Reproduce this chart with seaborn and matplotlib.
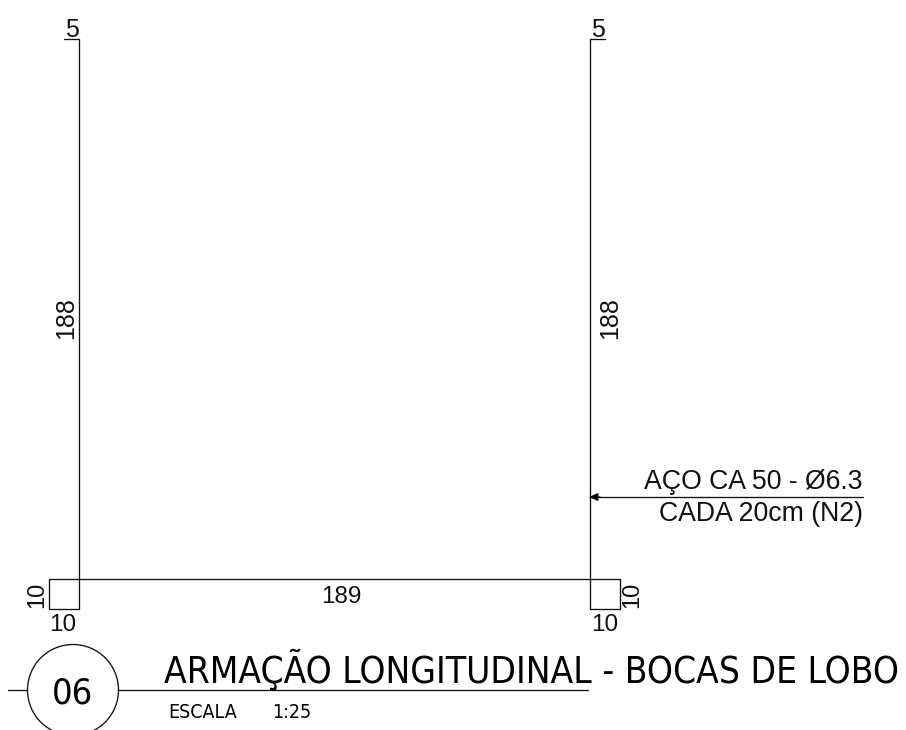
import matplotlib
matplotlib.use("Agg")
import matplotlib.pyplot as plt
import pandas as pd
import seaborn as sns
from matplotlib.patches import Circle

sns.set_theme(style="white")

seg_names = ["left_bar", "right_bar", "base_top", "left_square", "right_square",
             "leader", "title_rule_a", "title_rule_b"]
seg_x = [[64, 79, 79], [590, 605], [49, 620], [49, 49, 79], [620, 620, 590],
         [590, 863], [8, 27], [118, 588]]
seg_y = [[39, 39, 609], [39, 39], [579, 579], [579, 609, 609], [579, 609, 609],
         [497, 497], [690, 690], [690, 690]]
right_stem_x = [590, 590]
right_stem_y = [39, 609]

dim_labels = ["5", "5", "188", "188", "10", "10", "10", "10", "189"]
dim_x = [72, 598, 66, 610, 37, 632, 63, 605, 341]
dim_y = [37, 37, 318, 318, 595, 595, 631, 631, 603]
dim_rot = [0, 0, 90, 90, 90, 90, 0, 0, 0]
dim_size = [18, 18, 18, 18, 17, 17, 17.5, 17.5, 17.5]

note_lines = ["AÇO CA 50 - Ø6.3", "CADA 20cm (N2)"]
title_text = "ARMAÇÃO LONGITUDINAL - BOCAS DE LOBO"
badge_text = "06"
scale_label = "ESCALA"
scale_value = "1:25"

df = pd.DataFrame(
    [{"seg": n, "order": i, "x": px, "y": py}
     for n, xs, ys in zip(seg_names + ["right_stem"], seg_x + [right_stem_x], seg_y + [right_stem_y])
     for i, (px, py) in enumerate(zip(xs, ys))]
)

fig = plt.figure(figsize=(9.06, 7.30), dpi=100, facecolor="white")
ax = fig.add_axes([0, 0, 1, 1])

sns.lineplot(data=df, x="x", y="y", units="seg", estimator=None, sort=False,
             color="#111111", linewidth=0.95, ax=ax, legend=False)

ax.set_xlim(0, 906)
ax.set_ylim(730, 0)
ax.axis("off")

ax.add_patch(Circle((73, 690), 45.5, fill=False, edgecolor="#111111", linewidth=0.95))
ax.annotate("", xy=(589, 497), xytext=(600, 497),
            arrowprops=dict(arrowstyle="-|>,head_length=0.45,head_width=0.2",
                            color="black", lw=0.8, shrinkA=0, shrinkB=0))

arial = "Liberation Sans"
for s, x, y, r, fs in zip(dim_labels, dim_x, dim_y, dim_rot, dim_size):
    if r:
        ax.text(x, y, s, rotation=90, ha="center", va="center", family=arial,
                fontsize=fs, color="#111111")
    else:
        ax.text(x, y, s, ha="center", va="baseline", family=arial,
                fontsize=fs, color="#111111")

ax.text(863, 489, note_lines[0], ha="right", va="baseline", family=arial, fontsize=19.2, color="#111111")
ax.text(863, 521, note_lines[1], ha="right", va="baseline", family=arial, fontsize=19.2, color="#111111")

tahoma = "DejaVu Sans"
ax.text(164, 683, title_text, ha="left", va="baseline", family=tahoma, stretch="condensed", fontsize=26.6, color="black")
ax.text(73, 703, badge_text, ha="center", va="baseline", family=tahoma, stretch="condensed", fontsize=26, color="black")
ax.text(168, 718, scale_label, ha="left", va="baseline", family=tahoma, stretch="condensed", fontsize=14, color="black")
ax.text(272, 718, scale_value, ha="left", va="baseline", family=tahoma, stretch="condensed", fontsize=14, color="black")

fig.savefig("out.png", dpi=100, facecolor="white")
